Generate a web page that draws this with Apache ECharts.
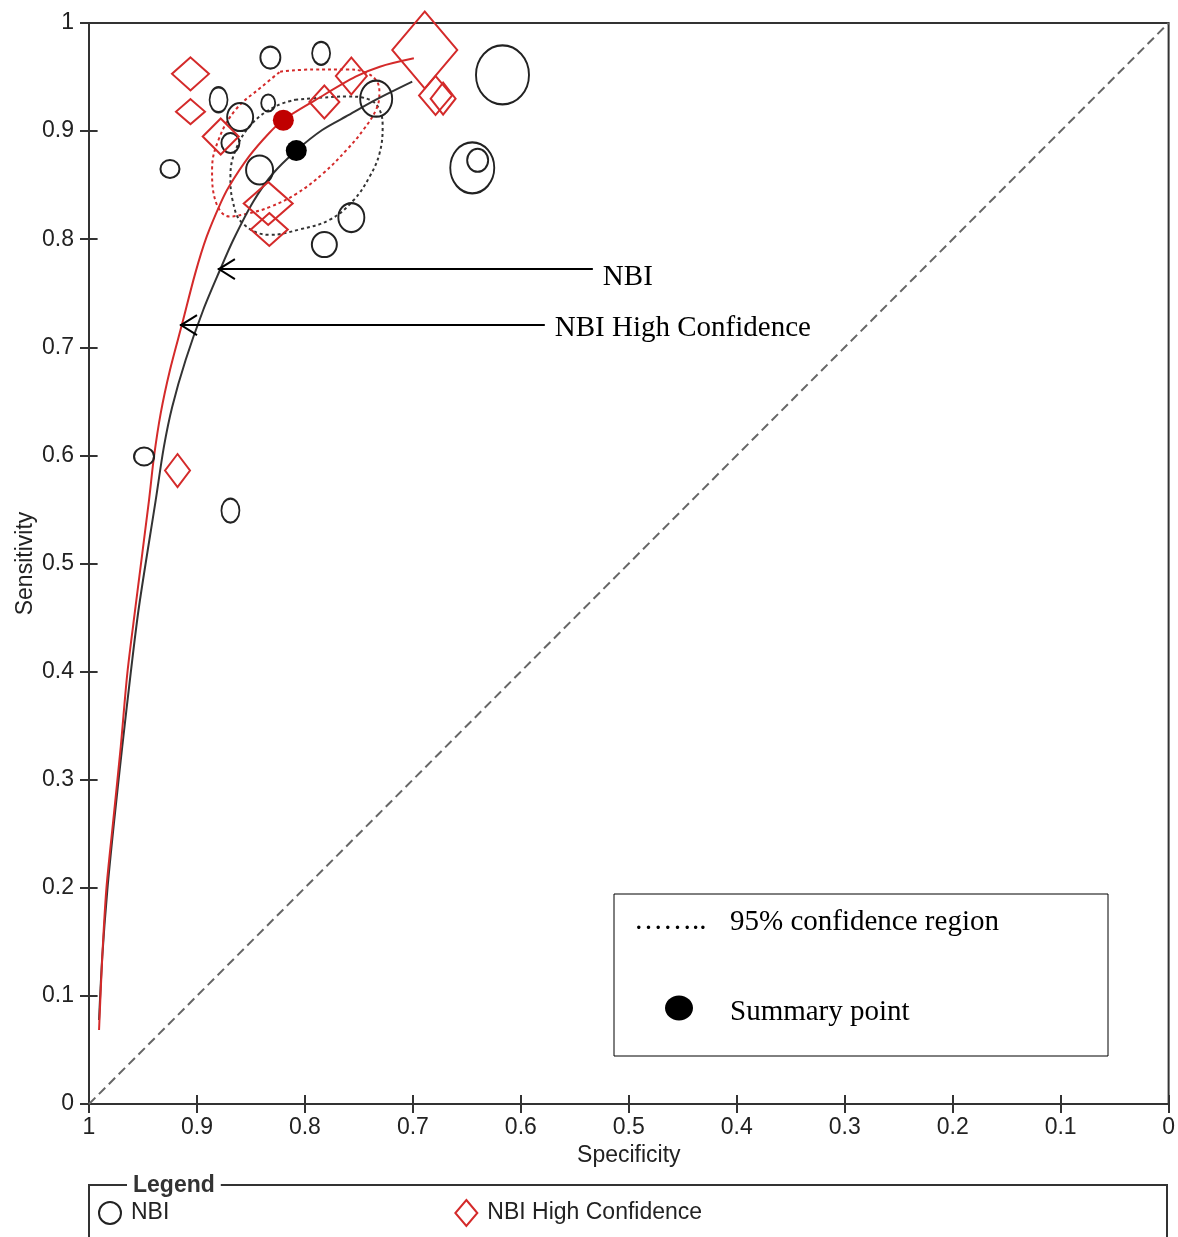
<!DOCTYPE html>
<html>
<head>
<meta charset="utf-8">
<script src="https://cdn.jsdelivr.net/npm/echarts@6/dist/echarts.min.js"></script>
<style>
html,body{margin:0;padding:0;background:#fff;}
#chart{width:1178px;height:1237px;}
</style>
</head>
<body>
<div id="chart"></div>
<script>
// ---- Data (specificity, sensitivity) ----
const nbiSpec = [0.832,0.785,0.880,0.834,0.860,0.869,0.925,0.842,0.734,0.617,0.645,0.640,0.757,0.782,0.949,0.869];
const nbiSens = [0.968,0.972,0.929,0.926,0.913,0.889,0.865,0.864,0.930,0.952,0.866,0.873,0.820,0.795,0.599,0.549];
const nbiMarkerSize = [[20,22],[18,23],[18,25],[14,17],[26,28],[18,20],[19,18],[27,29],[32,36],[53,59],[44,51],[21,23],[26,29],[25,25],[20,18],[18,24]];

const hcSpec = [0.906,0.906,0.878,0.834,0.833,0.782,0.757,0.689,0.679,0.672,0.918];
const hcSens = [0.953,0.918,0.895,0.833,0.809,0.927,0.951,0.975,0.933,0.930,0.586];
const hcMarkerSize = [[37,33],[29,25],[36,36],[49,43],[37,33],[30,33],[31,37],[65,77],[33,39],[25,32],[25,33]];

const nbiSummary = [0.808, 0.882];
const hcSummary = [0.820, 0.910];

const nbiCurveSpec = [0.7006,0.7346,0.7593,0.7840,0.8081,0.8294,0.8479,0.8664,0.8787,0.8942,0.9105,0.9229,0.9306,0.9382,0.9537,0.9614,0.9692,0.9769,0.9830,0.9877,0.9907];
const nbiCurveSens = [0.9457,0.9288,0.9149,0.9010,0.8819,0.8610,0.8347,0.7993,0.7715,0.7345,0.6883,0.6451,0.6081,0.5587,0.4600,0.3984,0.3305,0.2597,0.1980,0.1363,0.0777];

const hcCurveSpec = [0.6991,0.7306,0.7531,0.7901,0.8201,0.8333,0.8519,0.8704,0.8782,0.8910,0.9016,0.9136,0.9250,0.9336,0.9398,0.9444,0.9569,0.9645,0.9706,0.9778,0.9840,0.9877,0.9907];
const hcCurveSens = [0.9673,0.9596,0.9503,0.9288,0.9103,0.8980,0.8763,0.8486,0.8332,0.8023,0.7684,0.7222,0.6790,0.6389,0.5988,0.5587,0.4600,0.3984,0.3305,0.2597,0.1980,0.1363,0.0685];

const nbiRegionSpec = [0.809,0.784,0.761,0.740,0.731,0.728,0.731,0.740,0.755,0.777,0.805,0.833,0.858,0.867,0.869,0.864,0.849,0.827,0.809];
const nbiRegionSens = [0.929,0.931,0.932,0.929,0.920,0.904,0.879,0.858,0.836,0.818,0.809,0.804,0.815,0.836,0.858,0.883,0.907,0.923,0.929];

const hcRegionSpec = [0.823,0.792,0.761,0.746,0.734,0.731,0.734,0.746,0.761,0.783,0.808,0.832,0.852,0.870,0.883,0.886,0.880,0.864,0.840,0.823];
const hcRegionSens = [0.955,0.957,0.957,0.955,0.947,0.935,0.920,0.901,0.883,0.861,0.842,0.830,0.824,0.821,0.836,0.864,0.892,0.920,0.941,0.955];

const chanceLine = [[1,0],[0,1]];

const arrowLabels = ['NBI','NBI High Confidence'];
const arrowTipSpec = [0.8806, 0.9157];
const arrowTipSens = [0.7724, 0.7206];
const arrowTailSpec = [0.5333, 0.5778];

const ticks = { min: 0, max: 1, interval: 0.1 };

// ---- Styles ----
const SANS = '"Liberation Sans", Arial, sans-serif';
const SERIF = '"Liberation Serif", "Times New Roman", serif';
const AX = '#333';
const RED = '#d42a2a';
const ELLIPSE = 'path://M50,0 C77.6,0 100,22.4 100,50 C100,77.6 77.6,100 50,100 C22.4,100 0,77.6 0,50 C0,22.4 22.4,0 50,0 Z';
const arrowLabelDy = [8, 3];

const zip = (a, b) => a.map((v, i) => [v, b[i]]);

function mainAxis(extra) {
  return Object.assign({
    type: 'value', min: ticks.min, max: ticks.max, interval: ticks.interval,
    axisLine: { show: true, onZero: false, lineStyle: { color: AX, width: 2 } },
    axisTick: { show: true, inside: false, length: 9, lineStyle: { color: AX, width: 2 } },
    splitLine: { show: false },
    nameTextStyle: { fontFamily: SANS, fontSize: 23, color: '#222' },
    nameLocation: 'middle'
  }, extra);
}
// second axis placed on the same line, ticks pointing into the plot (so ticks cross the axis)
function innerTickAxis(extra) {
  return Object.assign({
    type: 'value', min: ticks.min, max: ticks.max, interval: ticks.interval,
    axisLine: { show: false, onZero: false },
    axisTick: { show: true, inside: false, length: 9, lineStyle: { color: AX, width: 2 } },
    axisLabel: { show: false },
    splitLine: { show: false }
  }, extra);
}

const chart = echarts.init(document.getElementById('chart'), null, { renderer: 'canvas' });

const option = {
  animation: false,
  backgroundColor: '#fff',
  grid: { left: 89, right: 9, top: 23, bottom: 133, show: true, borderColor: AX, borderWidth: 2, backgroundColor: 'transparent' },
  xAxis: [
    mainAxis({ inverse: true, position: 'bottom', name: 'Specificity', nameGap: 38,
      axisLabel: { fontFamily: SANS, fontSize: 23, color: '#222', margin: 12 } }),
    innerTickAxis({ inverse: true, position: 'top', offset: -1081 })
  ],
  yAxis: [
    mainAxis({ position: 'left', name: 'Sensitivity', nameGap: 52, nameMoveOverlap: false,
      axisLabel: { fontFamily: SANS, fontSize: 23, color: '#222', margin: 15 } }),
    innerTickAxis({ position: 'right', offset: -1080 })
  ],
  legend: {
    data: ['NBI', 'NBI High Confidence'],
    left: 93, top: 1194,
    itemWidth: 22, itemHeight: 26, itemGap: 285,
    textStyle: { fontFamily: SANS, fontSize: 23, color: '#222', padding: [0, 0, 0, 5] },
    selectedMode: false
  },
  series: [
    { type: 'line', name: 'chance', data: chanceLine, symbol: 'none', silent: true,
      lineStyle: { color: '#666', width: 2, type: [9, 5] }, z: 1 },
    { type: 'line', name: 'nbiRegion', data: zip(nbiRegionSpec, nbiRegionSens), symbol: 'none', smooth: 0.4, silent: true,
      lineStyle: { color: '#333', width: 2, type: [3, 3] }, z: 2 },
    { type: 'line', name: 'hcRegion', data: zip(hcRegionSpec, hcRegionSens), symbol: 'none', smooth: 0.4, silent: true,
      lineStyle: { color: RED, width: 2, type: [3, 3] }, z: 2 },
    { type: 'line', name: 'nbiCurve', data: zip(nbiCurveSpec, nbiCurveSens), symbol: 'none', smooth: 0.3, silent: true,
      lineStyle: { color: '#333', width: 2 }, z: 3 },
    { type: 'line', name: 'hcCurve', data: zip(hcCurveSpec, hcCurveSens), symbol: 'none', smooth: 0.3, silent: true,
      lineStyle: { color: RED, width: 2 }, z: 3 },
    { type: 'scatter', name: 'NBI', symbol: ELLIPSE,
      data: nbiSpec.map((s, i) => ({ value: [s, nbiSens[i]], symbolSize: nbiMarkerSize[i] })),
      itemStyle: { color: 'rgba(0,0,0,0)', borderColor: '#222', borderWidth: 2, opacity: 1 }, z: 4 },
    { type: 'scatter', name: 'NBI High Confidence', symbol: 'diamond',
      data: hcSpec.map((s, i) => ({ value: [s, hcSens[i]], symbolSize: hcMarkerSize[i] })),
      itemStyle: { color: 'rgba(0,0,0,0)', borderColor: RED, borderWidth: 2, opacity: 1 }, z: 4 },
    { type: 'scatter', name: 'hcSummary', symbol: 'circle', symbolSize: 21, data: [hcSummary],
      itemStyle: { color: '#c00000', opacity: 1 }, z: 5 },
    { type: 'scatter', name: 'nbiSummary', symbol: 'circle', symbolSize: 21, data: [nbiSummary],
      itemStyle: { color: '#000', opacity: 1 }, z: 5 },
    { type: 'custom', name: 'arrows', clip: false, silent: true, z: 6,
      data: arrowTipSpec.map((s, i) => [s, arrowTipSens[i], arrowTailSpec[i]]),
      renderItem: function (params, api) {
        const tip = api.coord([api.value(0), api.value(1)]);
        const tail = api.coord([api.value(2), api.value(1)]);
        return {
          type: 'group',
          children: [
            { type: 'line', shape: { x1: tip[0], y1: tip[1], x2: tail[0], y2: tail[1] },
              style: { stroke: '#000', lineWidth: 2 } },
            { type: 'polyline', shape: { points: [[tip[0] + 17, tip[1] - 10], [tip[0] + 1, tip[1]], [tip[0] + 17, tip[1] + 10]] },
              style: { stroke: '#000', fill: null, lineWidth: 2 } },
            { type: 'text', style: { text: arrowLabels[params.dataIndex], x: tail[0] + 10, y: tip[1] + arrowLabelDy[params.dataIndex],
              verticalAlign: 'middle', align: 'left', font: '29px ' + SERIF, fill: '#000' } }
          ]
        };
      }
    }
  ],
  graphic: [
    { type: 'rect', shape: { x: 614, y: 894, width: 494, height: 162 },
      style: { stroke: '#000', lineWidth: 1, fill: '#fff' }, z: 10 },
    { type: 'text', x: 634, y: 921, style: { text: '\u2026\u2026..', font: '29px ' + SERIF, fill: '#000', verticalAlign: 'middle' }, z: 11 },
    { type: 'text', x: 730, y: 922, style: { text: '95% confidence region', font: '29px ' + SERIF, fill: '#000', verticalAlign: 'middle' }, z: 11 },
    { type: 'ellipse', shape: { cx: 679, cy: 1008, rx: 14, ry: 12.5 }, style: { fill: '#000' }, z: 11 },
    { type: 'text', x: 730, y: 1012, style: { text: 'Summary point', font: '29px ' + SERIF, fill: '#000', verticalAlign: 'middle' }, z: 11 },
    { type: 'rect', shape: { x: 89, y: 1185, width: 1078, height: 120 },
      style: { stroke: AX, lineWidth: 2, fill: 'none' }, z: 1 },
    { type: 'text', x: 127, y: 1186, style: { text: 'Legend', font: 'bold 23px ' + SANS, fill: '#333', verticalAlign: 'middle',
      backgroundColor: '#fff', padding: [0, 6] }, z: 2 }
  ]
};

chart.setOption(option);
</script>
</body>
</html>
